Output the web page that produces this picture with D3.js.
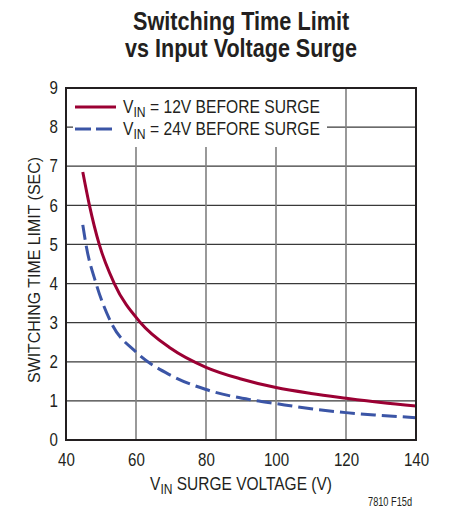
<!DOCTYPE html>
<html>
<head>
<meta charset="utf-8">
<script src="https://cdn.jsdelivr.net/npm/d3@7"></script>
<style>
  html, body { margin: 0; padding: 0; background: #fff; }
  svg { display: block; }
  text { font-family: "Liberation Sans", Arial, sans-serif; fill: #231f20; }
</style>
</head>
<body>
<div id="chart"></div>
<script>
// Surge voltage (V) and switching time limit (s) for each starting input voltage
const surgeV12 = [44.8, 46.7, 49.5, 53.8, 61.3, 70, 80, 90, 100, 110, 120, 130, 140];
const time12   = [6.85, 6.0, 5.0, 4.0, 3.0, 2.34, 1.86, 1.56, 1.34, 1.19, 1.07, 0.96, 0.87];
const surgeV24 = [44.8, 45.7, 48.6, 52.9, 60, 70, 80, 92.6, 100, 110, 120, 130, 140];
const time24   = [5.5, 5.0, 4.0, 3.0, 2.25, 1.65, 1.29, 1.03, 0.93, 0.80, 0.70, 0.63, 0.57];

const xTicks = [40, 60, 80, 100, 120, 140];
const yTicks = [0, 1, 2, 3, 4, 5, 6, 7, 8, 9];

const seriesNames = ["12V", "24V"];
const seriesColors = ["#9b0033", "#3b55a6"];

const W = 449, H = 510;
const m = { left: 66, right: 33, top: 88, bottom: 70 };
const iw = W - m.left - m.right, ih = H - m.top - m.bottom;

// Narrow a text element horizontally by factor f, keeping one side (or its centre) fixed
function squeeze(node, f, keep) {
  const b = node.getBBox();
  let L;
  if (keep === "start") L = b.x;
  else if (keep === "end") L = b.x + b.width * (1 - f);
  else L = b.x + b.width * (1 - f) / 2;
  node.setAttribute("transform", `translate(${L - b.x * f},0) scale(${f},1)`);
}
// Narrow a text element to a given width
function fitWidth(node, w, keep) {
  const b = node.getBBox();
  squeeze(node, w / b.width, keep);
}

const svg = d3.select("#chart").append("svg").attr("width", W).attr("height", H);

// Title
const t1 = svg.append("text").attr("text-anchor", "middle").attr("x", 241).attr("y", 30)
  .style("font-size", "25px").style("font-weight", "bold").text("Switching Time Limit");
const t2 = svg.append("text").attr("text-anchor", "middle").attr("x", 241).attr("y", 57)
  .style("font-size", "25px").style("font-weight", "bold").text("vs Input Voltage Surge");
fitWidth(t1.node(), 217, "middle");
fitWidth(t2.node(), 232, "middle");

const g = svg.append("g").attr("transform", `translate(${m.left},${m.top})`);

const x = d3.scaleLinear().domain([40, 140]).range([0, iw]);
const y = d3.scaleLinear().domain([0, 9]).range([ih, 0]);

// Horizontal grid lines
g.append("g").selectAll("line").data(yTicks.slice(1, -1)).join("line")
  .attr("x1", 0).attr("x2", iw)
  .attr("y1", d => y(d)).attr("y2", d => y(d))
  .attr("stroke", "#3a3a3a").attr("stroke-width", 1.3);

// Vertical grid lines
g.append("g").selectAll("line").data(xTicks.slice(1, -1)).join("line")
  .attr("x1", d => x(d)).attr("x2", d => x(d))
  .attr("y1", 0).attr("y2", ih)
  .attr("stroke", "#808080").attr("stroke-width", 1.6);

// Axis tick labels
const xAxis = g.append("g").attr("transform", `translate(0,${ih})`)
  .call(d3.axisBottom(x).tickValues(xTicks).tickSize(0).tickPadding(13).tickFormat(d3.format("d")));
xAxis.select(".domain").remove();
xAxis.selectAll("text").style("font-size", "18px").style("font-family", null).attr("fill", "#231f20")
  .each(function () { squeeze(this, 0.84, "middle"); });

const yAxis = g.append("g")
  .call(d3.axisLeft(y).tickValues(yTicks).tickSize(0).tickPadding(8).tickFormat(d3.format("d")));
yAxis.select(".domain").remove();
yAxis.selectAll("text").style("font-size", "18px").style("font-family", null).attr("fill", "#231f20")
  .each(function () { squeeze(this, 0.84, "end"); });

// Curves
const line = d3.line().x(d => x(d[0])).y(d => y(d[1])).curve(d3.curveMonotoneX);
const data12 = surgeV12.map((v, i) => [v, time12[i]]);
const data24 = surgeV24.map((v, i) => [v, time24[i]]);

g.append("path").datum(data12).attr("d", line)
  .attr("fill", "none").attr("stroke", seriesColors[0]).attr("stroke-width", 3);
g.append("path").datum(data24).attr("d", line)
  .attr("fill", "none").attr("stroke", seriesColors[1]).attr("stroke-width", 3)
  .attr("stroke-dasharray", "15,6");

// Legend with white backing
const leg = g.append("g");
leg.append("rect").attr("x", 7).attr("y", 1).attr("width", 254).attr("height", 58).attr("fill", "#fff");
const legRows = [
  { name: seriesNames[0], color: seriesColors[0], dash: null, yy: 19 },
  { name: seriesNames[1], color: seriesColors[1], dash: "16,5", yy: 41 }
];
legRows.forEach(r => {
  leg.append("line").attr("x1", 9).attr("x2", 50).attr("y1", r.yy).attr("y2", r.yy)
    .attr("stroke", r.color).attr("stroke-width", 3).attr("stroke-dasharray", r.dash);
  const t = leg.append("text").attr("x", 57).attr("y", r.yy + 6).style("font-size", "18px");
  t.append("tspan").text("V");
  t.append("tspan").attr("dy", 4).style("font-size", "14px").text("IN");
  t.append("tspan").attr("dy", -4).text(` = ${r.name} BEFORE SURGE`);
  fitWidth(t.node(), 197, "start");
});

// Plot frame
g.append("rect").attr("x", 0).attr("y", 0).attr("width", iw).attr("height", ih)
  .attr("fill", "none").attr("stroke", "#231f20").attr("stroke-width", 2);

// Axis titles
const xt = svg.append("text").attr("text-anchor", "middle").attr("x", 241).attr("y", 490).style("font-size", "18px");
xt.append("tspan").text("V");
xt.append("tspan").attr("dy", 4).style("font-size", "14px").text("IN");
xt.append("tspan").attr("dy", -4).text(" SURGE VOLTAGE (V)");
fitWidth(xt.node(), 182, "middle");

const ytg = svg.append("g").attr("transform", `translate(40,270) rotate(-90)`);
const yt = ytg.append("text").attr("text-anchor", "middle").attr("x", 0).attr("y", 0)
  .style("font-size", "17px").text("SWITCHING TIME LIMIT (SEC)");
fitWidth(yt.node(), 226, "middle");

const fn = svg.append("text").attr("x", 412).attr("y", 506).attr("text-anchor", "end")
  .style("font-size", "12px").text("7810 F15d");
fitWidth(fn.node(), 44, "end");
</script>
</body>
</html>
